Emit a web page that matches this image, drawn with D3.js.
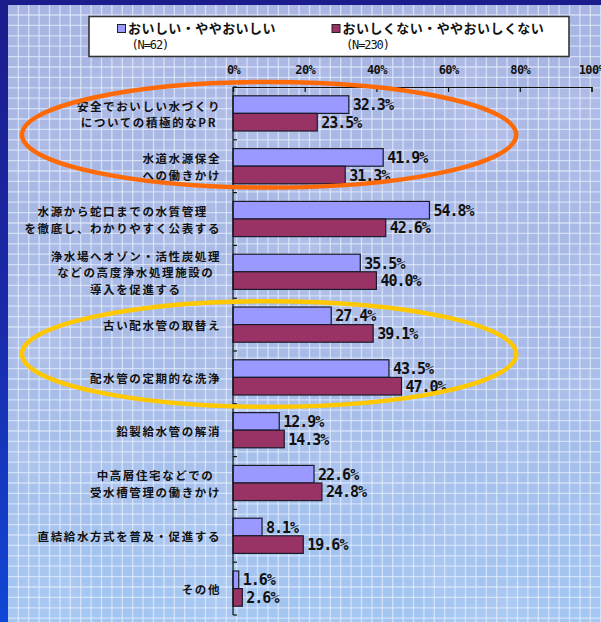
<!DOCTYPE html>
<html>
<head>
<meta charset="utf-8">
<script src="https://cdn.jsdelivr.net/npm/d3@7"></script>
<style>
body { margin: 0; padding: 0; background: #1c1c8c; }
svg { display: block; }
.cat { font-family: "Noto Sans CJK JP", sans-serif; font-weight: 700; font-size: 11.5px; letter-spacing: 1.6px; fill: #111; }
.val { font-family: "DejaVu Sans Mono", monospace; font-weight: 700; font-size: 15px; letter-spacing: -1px; fill: #111; }
.axis text { font-family: "DejaVu Sans Mono", monospace; font-weight: 700; font-size: 12px; letter-spacing: -0.6px; fill: #111; }
.axis path, .axis line { stroke: #111; stroke-width: 1.2; }
.leg { font-family: "Noto Sans CJK JP", sans-serif; font-weight: 700; font-size: 13px; letter-spacing: 0.45px; fill: #111; }
.legn { font-family: "DejaVu Sans Mono", monospace; font-size: 12px; letter-spacing: -1.1px; fill: #111; }
</style>
</head>
<body>
<svg id="chart"></svg>
<script>
// データ
var categories = [
  "安全でおいしい水づくり\nについての積極的なPR",
  "水道水源保全\nへの働きかけ",
  "水源から蛇口までの水質管理\nを徹底し、わかりやすく公表する",
  "浄水場へオゾン・活性炭処理\nなどの高度浄水処理施設の\n導入を促進する",
  "古い配水管の取替え",
  "配水管の定期的な洗浄",
  "鉛製給水管の解消",
  "中高層住宅などでの\n受水槽管理の働きかけ",
  "直結給水方式を普及・促進する",
  "その他"
];
var seriesNames = ["おいしい・ややおいしい", "おいしくない・ややおいしくない"];
var seriesN = ["(N=62)", "(N=230)"];
var tasty    = [32.3, 41.9, 54.8, 35.5, 27.4, 43.5, 12.9, 22.6, 8.1, 1.6];
var notTasty = [23.5, 31.3, 42.6, 40.0, 39.1, 47.0, 14.3, 24.8, 19.6, 2.6];
var xTicks = [0, 20, 40, 60, 80, 100];
// 強調の楕円 (カテゴリ番号)
var highlights = [
  { from: 0, to: 1, color: "#ff6a08", dy: -5 },
  { from: 4, to: 5, color: "#ffc800", dy: 3 }
];

var W = 601, H = 622;
var colors = ["#9999ff", "#993366"];
var series = [tasty, notTasty];

var svg = d3.select("#chart").attr("width", W).attr("height", H);
var defs = svg.append("defs");

// 背景
var bg = defs.append("linearGradient").attr("id", "paper").attr("x1", 0).attr("y1", 0).attr("x2", 0).attr("y2", 1);
bg.append("stop").attr("offset", "0%").attr("stop-color", "#a9b5e2");
bg.append("stop").attr("offset", "55%").attr("stop-color", "#a8bbe6");
bg.append("stop").attr("offset", "100%").attr("stop-color", "#a2c6f1");

var side = defs.append("linearGradient").attr("id", "side").attr("x1", 0).attr("y1", 0).attr("x2", 0).attr("y2", 1);
side.append("stop").attr("offset", "0%").attr("stop-color", "#1c1c8c");
side.append("stop").attr("offset", "50%").attr("stop-color", "#1a2aa8");
side.append("stop").attr("offset", "100%").attr("stop-color", "#1046d6");

var noise = defs.append("filter").attr("id", "mottle").attr("x", 0).attr("y", 0).attr("width", "100%").attr("height", "100%");
noise.append("feTurbulence").attr("type", "fractalNoise").attr("baseFrequency", 0.012).attr("numOctaves", 3).attr("seed", 4);
noise.append("feColorMatrix").attr("type", "matrix")
  .attr("values", "0 0 0 0 0.72  0 0 0 0 0.74  0 0 0 0 0.95  0 0 0 1.4 -0.55");

svg.append("rect").attr("width", W).attr("height", H).attr("fill", "url(#paper)");
svg.append("rect").attr("width", W).attr("height", H).attr("filter", "url(#mottle)").attr("opacity", 0.35);

// 方眼
var grid = svg.append("g").attr("stroke", "#e6eeff").attr("stroke-opacity", 0.7).attr("stroke-width", 1.3);
grid.selectAll(".gv").data(d3.range(18.3, W, 10.4)).enter().append("line")
  .attr("x1", function(d){ return d; }).attr("x2", function(d){ return d; })
  .attr("y1", 0).attr("y2", H);
grid.selectAll(".gh").data(d3.range(15, H, 10.4)).enter().append("line")
  .attr("y1", function(d){ return d; }).attr("y2", function(d){ return d; })
  .attr("x1", 0).attr("x2", W);

svg.append("rect").attr("width", 8).attr("height", H).attr("fill", "url(#side)");
svg.append("rect").attr("width", W).attr("height", 5).attr("fill", "#1c1c8c");

// スケール
var x = d3.scaleLinear().domain([0, 100]).range([233, 591.5]);
var y = d3.scaleBand().domain(d3.range(categories.length)).range([87, 615]);
var ys = d3.scaleBand().domain([0, 1]).range([0, y.bandwidth()]).paddingOuter(0.5);

// 凡例
var legend = svg.append("g");
legend.append("rect").attr("x", 89).attr("y", 16.5).attr("width", 480).attr("height", 40)
  .attr("fill", "#fff").attr("stroke", "#333").attr("stroke-width", 1.6);
var legX = [117.5, 332];
seriesNames.forEach(function(name, i){
  var g = legend.append("g").attr("transform", "translate(" + legX[i] + ",0)");
  g.append("rect").attr("x", 0).attr("y", 24.5).attr("width", 8).attr("height", 8)
    .attr("fill", colors[i]).attr("stroke", "#222").attr("stroke-width", 1);
  g.append("text").attr("class", "leg").attr("x", 10.5).attr("y", 33).text(name);
  g.append("text").attr("class", "legn").attr("x", 14).attr("y", 48.5).text(seriesN[i]);
});

// 棒
var groups = svg.append("g").selectAll("g").data(categories).enter().append("g")
  .attr("transform", function(d, i){ return "translate(0," + y(i) + ")"; });

series.forEach(function(vals, s){
  groups.append("rect")
    .attr("x", x(0))
    .attr("y", ys(s))
    .attr("width", function(d, i){ return x(vals[i]) - x(0); })
    .attr("height", ys.bandwidth())
    .attr("fill", colors[s])
    .attr("stroke", "#1a1a2a")
    .attr("stroke-width", 1.2);
  groups.append("text")
    .attr("class", "val")
    .attr("x", function(d, i){ return x(vals[i]) + 4; })
    .attr("y", ys(s) + ys.bandwidth() / 2)
    .attr("dy", "0.37em")
    .text(function(d, i){ return vals[i].toFixed(1) + "%"; });
});

// カテゴリラベル (行は中央揃え、ブロックは右揃え)
groups.each(function(d, i){
  var lines = d.split("\n");
  var lh = 16.7;
  var t = d3.select(this).append("text").attr("class", "cat").attr("text-anchor", "middle");
  lines.forEach(function(line, k){
    t.append("tspan").attr("x", 0)
      .attr("y", y.bandwidth() / 2 + 1.5 + (k - (lines.length - 1) / 2) * lh)
      .attr("dy", "0.36em")
      .text(line);
  });
  var w = t.node().getBBox().width;
  t.attr("transform", "translate(" + (221 - w / 2) + ",0)");
});

// 軸
svg.append("g").attr("class", "axis")
  .attr("transform", "translate(0," + 87 + ")")
  .call(d3.axisTop(x).tickValues(xTicks).tickSizeInner(-5).tickSizeOuter(-5).tickPadding(13)
    .tickFormat(function(d){ return d + "%"; }));

var yAxis = svg.append("g").attr("class", "axis");
yAxis.append("line").attr("x1", x(0)).attr("x2", x(0)).attr("y1", y.range()[0]).attr("y2", y.range()[1]);
yAxis.selectAll(".yt").data(d3.range(categories.length + 1)).enter().append("line")
  .attr("x1", x(0)).attr("x2", x(0) + 4)
  .attr("y1", function(i){ return y.range()[0] + i * y.step(); })
  .attr("y2", function(i){ return y.range()[0] + i * y.step(); });

// 強調の楕円
svg.append("g").selectAll("ellipse").data(highlights).enter().append("ellipse")
  .attr("cx", (22 + x(79)) / 2)
  .attr("rx", (x(79) - 22) / 2)
  .attr("cy", function(h){ return (y(h.from) + y(h.to) + y.bandwidth()) / 2 + h.dy; })
  .attr("ry", function(h){ return (y(h.to) + y.bandwidth() - y(h.from)) / 2; })
  .attr("fill", "none")
  .attr("stroke", function(h){ return h.color; })
  .attr("stroke-width", 4.5);
</script>
</body>
</html>
